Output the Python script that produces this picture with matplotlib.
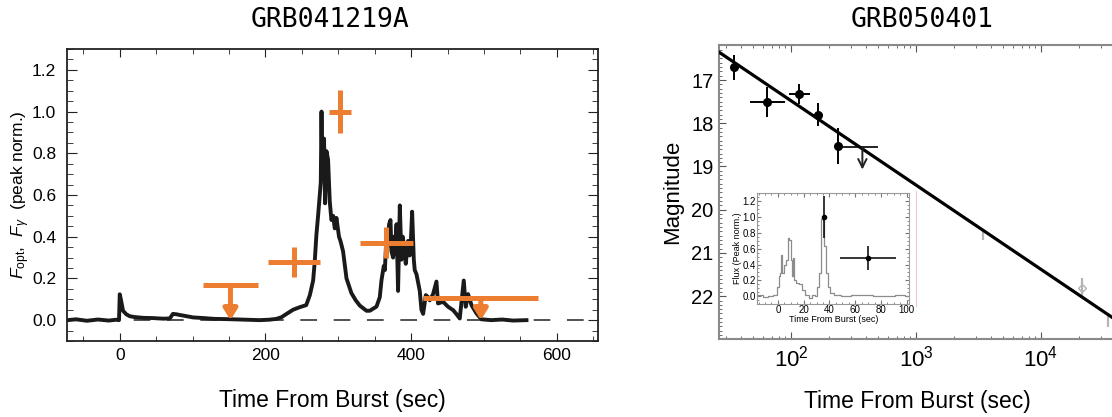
import matplotlib
matplotlib.use('Agg')
import matplotlib.pyplot as plt
import numpy as np
from matplotlib import font_manager
from matplotlib.ticker import MultipleLocator, LogLocator, NullFormatter, FormatStrFormatter

plt.rcParams['font.family'] = ['Liberation Sans', 'DejaVu Sans']
plt.rcParams['mathtext.fontset'] = 'custom'
plt.rcParams['mathtext.rm'] = 'Liberation Sans'
plt.rcParams['mathtext.it'] = 'Liberation Sans:italic'

# ---- GRB041219A: gamma-ray light curve (peak normalised) ----
lc_t = [-72, -60, -45, -30, -15, -5, -1, 0, 1.5, 4.5, 9, 13.7, 20, 32, 45, 60,
        68.7, 73, 78, 82, 90, 100.7, 115, 130, 146, 165, 192, 205, 215, 222,
        229, 238, 247, 256, 261, 265.5, 267.7, 270, 272.3, 274.6, 276, 277,
        278, 279, 280.5, 281.9, 283.8, 286, 288.3, 290.6, 293, 295.2, 297.5,
        301, 303, 306.6, 311.3, 318, 324, 329.5, 338.7, 343.3, 352.5, 357,
        359.3, 362.5, 364, 366.2, 367, 369.8, 371.7, 373, 375.3, 376.2, 378,
        380, 382.1, 384.5, 386.8, 388.5, 390, 392.7, 395.9, 398, 399.1, 401.4,
        403.7, 405, 407.4, 411.9, 414.2, 416.5, 420.2, 423.4, 425.6, 430.2,
        434.8, 437, 443.9, 450.8, 457.7, 462, 466.8, 472.3, 475, 478.2, 482.9,
        489.8, 496.6, 510, 525, 540, 558.4]
lc_f = [0.0, 0.004, -0.003, 0.003, -0.002, 0.002, 0.0, 0.124, 0.10, 0.045,
        0.028, 0.019, 0.015, 0.011, 0.010, 0.007, 0.008, 0.030, 0.028, 0.025,
        0.020, 0.013, 0.010, 0.006, 0.005, 0.003, 0.0, 0.002, 0.006, 0.014,
        0.030, 0.050, 0.062, 0.072, 0.12, 0.19, 0.28, 0.41, 0.50, 0.60, 0.66,
        1.0, 0.72, 0.74, 0.87, 0.56, 0.81, 0.77, 0.57, 0.48, 0.50, 0.44, 0.49,
        0.40, 0.38, 0.33, 0.20, 0.13, 0.095, 0.07, 0.045, 0.045, 0.065, 0.11,
        0.19, 0.26, 0.24, 0.41, 0.34, 0.46, 0.48, 0.33, 0.30, 0.40, 0.32,
        0.46, 0.14, 0.55, 0.29, 0.40, 0.36, 0.27, 0.38, 0.31, 0.33, 0.52,
        0.29, 0.24, 0.22, 0.14, 0.05, 0.03, 0.12, 0.11, 0.095, 0.125,
        0.185, 0.08, 0.088, 0.064, 0.048, 0.03, 0.008, 0.19, 0.064, 0.125, 0.072,
        0.032, 0.004, 0.0, 0.003, -0.002, 0.0]

# optical detections and upper limits
opt_t = [238.9, 302.5, 366.2]
opt_terr = [36, 15, 36.5]
opt_f = [0.279, 1.0, 0.372]
opt_ferr = [0.073, 0.105, 0.073]
ul_t = [152, 495.7]
ul_terr = [38, 78.7]
ul_f = [0.167, 0.104]

# ---- GRB050401: optical magnitudes ----
r_t = [35.2, 64.5, 116.5, 164, 236.4]
r_terr_lo = [0, 17.5, 19.6, 13, 0]
r_terr_hi = [0, 25, 25.5, 15, 0]
r_mag = [16.71, 17.51, 17.33, 17.80, 18.52]
r_merr = [0.29, 0.35, 0.23, 0.27, 0.42]
r_ul_t = 372
r_ul_lo, r_ul_hi = 243, 485
r_ul_mag = 18.56
late_t = [3455, 21150, 34550]
late_mag = [20.57, 21.80, 22.56]
late_merr = [0.12, 0.22, 0.15]
fit_alpha = 0.78
fit_m100 = 17.48

# inset: BAT light curve and optical points
in_t = [-16, -13.7, -10, -6, -2, 0, 1.2, 2.3, 3.1, 3.9, 5.7, 7, 8.2, 9.5, 10.3,
        11.3, 12.1, 13.2, 14.7, 17.3, 19.8, 22.5, 25, 27.6, 29.7, 31.5, 32.8,
        34.1, 35.3, 36.7, 38, 39.2, 41.9, 45.7, 53, 60, 69, 78, 87, 95, 102]
in_f = [0.01, 0.02, -0.01, 0.0, 0.02, 0.12, 0.25, 0.29, 0.52, 0.29, 0.40, 0.46,
        0.73, 0.71, 0.46, 0.25, 0.48, 0.21, 0.17, 0.15, 0.08, 0.02, -0.02, 0.02,
        0.0, 0.12, 0.29, 0.98, 0.96, 0.63, 0.29, 0.12, 0.04, 0.02, 0.0, 0.01,
        0.01, 0.0, 0.0, 0.01, 0.0]
in_opt_t = [36, 69.8]
in_opt_terr = [0, 21.6]
in_opt_f = [1.0, 0.48]
in_opt_ferr = [0.27, 0.15]

orange = '#ed7d31'
W, H = 1112, 417


def px_box(x0, y0, x1, y1):
    return [x0 / W, 1 - y1 / H, (x1 - x0) / W, (y1 - y0) / H]


fig = plt.figure(figsize=(W / 100, H / 100), dpi=100)

names = {f.name for f in font_manager.fontManager.ttflist}
if 'Liberation Sans Narrow' in names:
    title_font, title_size = 'Liberation Sans Narrow', 22
else:
    title_font, title_size = 'DejaVu Sans Mono', 19

# ---------------- left panel ----------------
ax1 = fig.add_axes(px_box(67.3, 49, 598.3, 341))
ax1.axhline(0, color='#333333', lw=1.2, ls=(0, (10, 10)), zorder=1)
ax1.plot(lc_t, lc_f, color='#1a1a1a', lw=2.8, zorder=2)
ax1.errorbar(opt_t, opt_f, xerr=opt_terr, yerr=opt_ferr, fmt='none',
             ecolor=orange, elinewidth=3.6, capsize=0, zorder=3)
ax1.errorbar(ul_t, ul_f, xerr=ul_terr, fmt='none', ecolor=orange,
             elinewidth=3.6, capsize=0, zorder=3)
for t, f in zip(ul_t, ul_f):
    ax1.annotate('', xy=(t, 0.0), xytext=(t, f),
                 arrowprops=dict(arrowstyle='-|>,head_width=0.2,head_length=0.32',
                                 color=orange, lw=3.6, mutation_scale=20,
                                 shrinkA=0, shrinkB=0), zorder=3)
ax1.set_xlim(-72, 657)
ax1.set_ylim(-0.1, 1.3)
ax1.xaxis.set_major_locator(MultipleLocator(200))
ax1.xaxis.set_minor_locator(MultipleLocator(50))
ax1.yaxis.set_major_locator(MultipleLocator(0.2))
ax1.yaxis.set_minor_locator(MultipleLocator(0.05))
ax1.yaxis.set_major_formatter(FormatStrFormatter('%.1f'))
ax1.tick_params(which='both', direction='in', top=True, right=True,
                labelsize=12.5, color='#222222')
ax1.tick_params(axis='y', which='major', length=7, pad=8)
ax1.tick_params(axis='y', which='minor', length=4)
ax1.tick_params(axis='x', which='major', length=6, pad=5)
ax1.tick_params(axis='x', which='minor', length=3.5)
for s in ax1.spines.values():
    s.set_color('#222222')
    s.set_linewidth(1.3)
ax1.set_ylabel(r'$F_{\rm opt}$,  $F_{\gamma}$  (peak norm.)', fontsize=12.5)
ax1.yaxis.set_label_coords(-0.066, 0.5)
ax1.set_xlabel('Time From Burst (sec)', fontsize=16.5, va='center')
ax1.xaxis.set_label_coords(0.5, -0.205)

# ---------------- right panel ----------------
t_lo, t_hi = 26.5, 50119
ax2 = fig.add_axes(px_box(719, 45, 1128.5, 339))
ax2.set_xscale('log')
t_fit = np.array([t_lo, t_hi])
ax2.plot(t_fit, fit_m100 + 2.5 * fit_alpha * np.log10(t_fit / 100),
         color='black', lw=2.3, zorder=3)
ax2.errorbar(r_t, r_mag, xerr=[r_terr_lo, r_terr_hi], yerr=r_merr, fmt='o',
             color='black', ms=5.5, elinewidth=1.4, capsize=0, zorder=4)
ax2.plot([r_ul_lo, r_ul_hi], [r_ul_mag, r_ul_mag], color='#222222', lw=1.4)
ax2.annotate('', xy=(r_ul_t, 19.07), xytext=(r_ul_t, r_ul_mag),
             arrowprops=dict(arrowstyle='->,head_width=0.25,head_length=0.5',
                             color='#222222', lw=1.4, mutation_scale=12,
                             shrinkA=0, shrinkB=0))
ax2.errorbar(late_t, late_mag, yerr=late_merr, fmt='none', ecolor='#b5b5b5',
             elinewidth=1.6, capsize=0, zorder=2)
ax2.plot(late_t[1], late_mag[1], 'D', ms=4, mfc='none', mec='#b5b5b5', mew=1)
ax2.plot([1000, 1000], [19.57, 22.22], color='#f0c8c8', lw=0.8, zorder=1)
ax2.set_xlim(t_lo, t_hi)
ax2.set_ylim(22.99, 16.19)
ax2.xaxis.set_major_locator(LogLocator(base=10))
ax2.xaxis.set_minor_locator(LogLocator(base=10, subs=np.arange(2, 10)))
ax2.xaxis.set_minor_formatter(NullFormatter())
ax2.yaxis.set_major_locator(MultipleLocator(1))
ax2.yaxis.set_minor_locator(MultipleLocator(0.1))
ax2.tick_params(which='both', direction='in', top=True, right=True,
                color='#555555')
ax2.tick_params(which='major', length=5)
ax2.tick_params(which='minor', length=2.5)
ax2.tick_params(axis='y', labelsize=14.5, pad=4)
ax2.tick_params(axis='x', labelsize=16, pad=5)
for s in ax2.spines.values():
    s.set_color('#8a8a8a')
    s.set_linewidth(1.5)
ax2.set_ylabel('Magnitude', fontsize=16, labelpad=6)
ax2.set_xlabel('Time From Burst (sec)', fontsize=16.5, va='center')
ax2.xaxis.set_label_coords(0.485, -0.213)

# inset
ax3 = fig.add_axes(px_box(757.3, 192.7, 909.3, 304))
ax3.plot(in_t, in_f, color='#8c8c8c', lw=0.9, drawstyle='steps-mid')
ax3.errorbar(in_opt_t, in_opt_f, xerr=in_opt_terr, yerr=in_opt_ferr, fmt='o',
             color='black', ms=3, elinewidth=1.1, capsize=0)
ax3.set_xlim(-16, 102)
ax3.set_ylim(-0.1, 1.31)
ax3.xaxis.set_major_locator(MultipleLocator(20))
ax3.xaxis.set_minor_locator(MultipleLocator(5))
ax3.yaxis.set_major_locator(MultipleLocator(0.2))
ax3.yaxis.set_minor_locator(MultipleLocator(0.05))
ax3.yaxis.set_major_formatter(FormatStrFormatter('%.1f'))
ax3.tick_params(which='both', direction='in', top=True, right=True,
                labelsize=7, pad=1, color='#777777')
ax3.tick_params(which='major', length=3)
ax3.tick_params(which='minor', length=1.5)
for s in ax3.spines.values():
    s.set_color('#999999')
    s.set_linewidth(0.8)
ax3.set_xlabel('Time From Burst (sec)', fontsize=6.5, labelpad=0)
ax3.set_ylabel('Flux (Peak norm.)', fontsize=6.5, labelpad=0)

fig.text(330 / W, 1 - 20 / H, 'GRB041219A', family=title_font,
         fontsize=title_size, ha='center', va='center')
fig.text(922 / W, 1 - 20 / H, 'GRB050401', family=title_font,
         fontsize=title_size, ha='center', va='center')

fig.savefig('out.png', dpi=100)
